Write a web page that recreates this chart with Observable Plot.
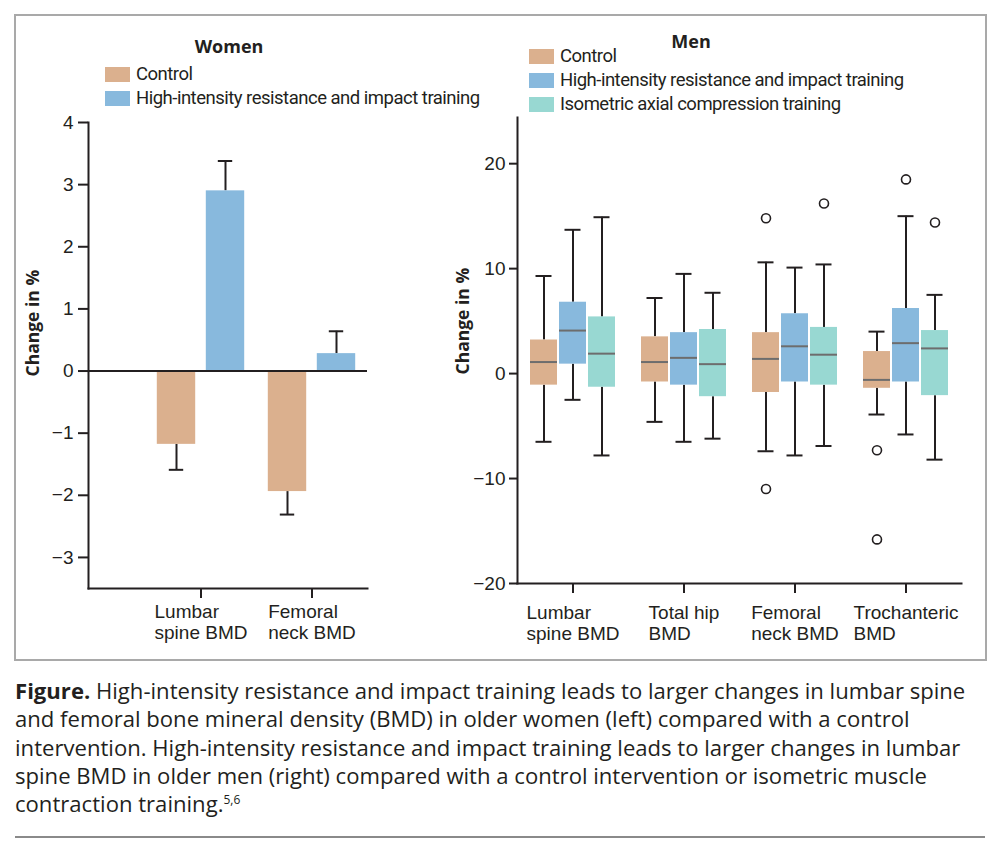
<!DOCTYPE html>
<html>
<head>
<meta charset="utf-8">
<script src="https://cdn.jsdelivr.net/npm/d3@7"></script>
<script src="https://cdn.jsdelivr.net/npm/@observablehq/plot@0.6"></script>
<style>
  body { margin: 0; background: #fff; }
  #fig { position: relative; width: 1000px; height: 852px; background: #fff; font-family: "Open Sans", sans-serif; color: #231f20; overflow: hidden; }
  .panel-frame { position: absolute; left: 14px; top: 14px; width: 969px; height: 643px; border: 2px solid #a9a9a9; }
  .chart { position: absolute; top: 0; }
  .chart svg { overflow: visible; }
  .title { position: absolute; font-weight: 700; font-size: 18px; transform: translate(-50%, -50%); white-space: nowrap; }
  .legend { position: absolute; font-family: Roboto, sans-serif; font-size: 18.5px; letter-spacing: -0.5px; }
  .legend .item { display: flex; align-items: center; height: 24px; white-space: nowrap; }
  .legend .swatch { width: 25px; height: 15px; margin-right: 6px; flex: none; }
  .caption { position: absolute; left: 15px; top: 676px; font-size: 22.1px; line-height: 28.3px; white-space: nowrap; }
  .caption sup { font-size: 12px; line-height: 0; }
  .rule { position: absolute; left: 15px; top: 836px; width: 970px; height: 2px; background: #8a8a8a; }
</style>
</head>
<body>
<div id="fig">
  <div class="panel-frame"></div>
  <div id="women" class="chart" style="left:0px"></div>
  <div id="men" class="chart" style="left:440px"></div>
  <div class="title" style="left:229px; top:46px">Women</div>
  <div class="title" style="left:691px; top:41px">Men</div>
  <div id="legend-women" class="legend" style="left:105px; top:62px"></div>
  <div id="legend-men" class="legend" style="left:529px; top:44px"></div>
  <div class="caption"><b>Figure.</b> High-intensity resistance and impact training leads to larger changes in lumbar spine<br>and femoral bone mineral density (BMD) in older women (left) compared with a control<br>intervention. High-intensity resistance and impact training leads to larger changes in lumbar<br>spine BMD in older men (right) compared with a control intervention or isometric muscle<br>contraction training.<sup>5,6</sup></div>
  <div class="rule"></div>
</div>
<script>
// ---- Women: mean change in % with standard error ----
const womenSites = ["Lumbar\nspine BMD", "Femoral\nneck BMD"];
const womenControlMean = [-1.18, -1.94];
const womenControlSem = [0.41, 0.37];
const womenTrainingMean = [2.9, 0.28];
const womenTrainingSem = [0.48, 0.36];
const womenTicks = [-3, -2, -1, 0, 1, 2, 3, 4];

// ---- Men: box plots, each entry is [lower whisker, Q1, median, Q3, upper whisker] ----
const menSites = ["Lumbar\nspine BMD", "Total hip\nBMD", "Femoral\nneck BMD", "Trochanteric\nBMD"];
const menControl = [[-6.5, -1.1, 1.1, 3.2, 9.3], [-4.6, -0.8, 1.1, 3.5, 7.2], [-7.4, -1.8, 1.4, 3.9, 10.6], [-3.9, -1.4, -0.6, 2.1, 4.0]];
const menTraining = [[-2.5, 0.9, 4.1, 6.8, 13.7], [-6.5, -1.1, 1.5, 3.9, 9.5], [-7.8, -0.8, 2.6, 5.7, 10.1], [-5.8, -0.8, 2.9, 6.2, 15.0]];
const menIsometric = [[-7.8, -1.3, 1.9, 5.4, 14.9], [-6.2, -2.2, 0.9, 4.2, 7.7], [-6.9, -1.1, 1.8, 4.4, 10.4], [-8.2, -2.1, 2.4, 4.1, 7.5]];
const outlierSite = [2, 2, 3, 3, 3, 2, 3];
const outlierGroup = [0, 0, 0, 0, 1, 2, 2];
const outlierValue = [14.8, -11.0, -7.3, -15.8, 18.5, 16.2, 14.4];
const menTicks = [-20, -10, 0, 10, 20];

const groupNames = ["Control", "High-intensity resistance and impact training", "Isometric axial compression training"];
const groupColors = ["#dbb08e", "#88b9dd", "#98d8d2"];

const ink = "#231f20";
const fmt = d3.format("d");
const tickFont = 19;
const tickFamily = "Liberation Sans";

// width of the widest line of a multi-line label, used to left-align each block around its tick
const ctx = document.createElement("canvas").getContext("2d");
ctx.font = `${tickFont}px "${tickFamily}"`;
const blockWidth = (s) => d3.max(s.split("\n"), (line) => ctx.measureText(line).width);

function siteLabels(sites, dy) {
  return sites.map((site) =>
    Plot.text([site], {
      x: (d) => d, frameAnchor: "bottom", lineAnchor: "top", textAnchor: "start",
      dx: -blockWidth(site) / 2, dy, fontSize: tickFont, fontFamily: tickFamily, lineHeight: 1.12, fill: ink
    })
  );
}

// ---------------- Women panel ----------------
{
  const width = 440, height = 660;
  const m = {top: 122, right: 73, bottom: 72, left: 88};
  const paddingOuter = 0.25;
  const bw = (width - m.left - m.right) / (womenSites.length + 2 * paddingOuter);
  const barW = 39, capW = 15, offset = 24.5;

  function series(means, sems, color, dx) {
    const rows = womenSites.map((site, i) => ({site, mean: means[i], end: means[i] + Math.sign(means[i]) * sems[i]}));
    const side = (bw - barW) / 2;
    return [
      Plot.ruleX(rows, {x: "site", y1: "mean", y2: "end", dx, stroke: ink, strokeWidth: 2}),
      Plot.tickY(rows, {x: "site", y: "end", dx, insetLeft: (bw - capW) / 2, insetRight: (bw - capW) / 2, stroke: ink, strokeWidth: 2}),
      Plot.barY(rows, {x: "site", y1: 0, y2: "mean", dx, insetLeft: side, insetRight: side, fill: color})
    ];
  }

  const chart = Plot.plot({
    width, height,
    marginTop: m.top, marginRight: m.right, marginBottom: m.bottom, marginLeft: m.left,
    style: {fontFamily: tickFamily, fontSize: `${tickFont}px`, color: ink, background: "transparent", overflow: "visible"},
    x: {domain: womenSites, paddingInner: 0, paddingOuter, align: 1},
    y: {domain: [-3.5, 4]},
    marks: [
      ...series(womenControlMean, womenControlSem, groupColors[0], -offset),
      ...series(womenTrainingMean, womenTrainingSem, groupColors[1], offset),
      Plot.ruleY([0], {stroke: ink, strokeWidth: 2}),
      Plot.frame({anchor: "left", stroke: ink, strokeWidth: 2}),
      Plot.frame({anchor: "bottom", stroke: ink, strokeWidth: 2}),
      Plot.axisY({ticks: womenTicks, tickSize: 10, tickPadding: 5, tickFormat: fmt, fontSize: tickFont, strokeWidth: 2, label: null}),
      Plot.axisX({tickSize: 10, tickFormat: () => "", strokeWidth: 2, label: null}),
      ...siteLabels(womenSites, 14),
      Plot.text(["Change in %"], {frameAnchor: "left", rotate: -90, dx: -55, dy: 21, fontFamily: "Open Sans", fontWeight: "bold", fontSize: 17.5, fill: ink})
    ]
  });
  document.getElementById("women").append(chart);
}

// ---------------- Men panel ----------------
{
  const width = 545, height = 660;
  const m = {top: 117, right: 24, bottom: 77, left: 77};
  const bw = (width - m.left - m.right) / menSites.length;
  const boxW = 27, capW = 16, step = 29;
  const offsets = [-step, 0, step];

  function series(stats, color, dx) {
    const rows = menSites.map((site, i) => {
      const [lo, q1, med, q3, hi] = stats[i];
      return {site, lo, q1, med, q3, hi};
    });
    const boxSide = (bw - boxW) / 2, capSide = (bw - capW) / 2;
    return [
      Plot.ruleX(rows, {x: "site", y1: "q3", y2: "hi", dx, stroke: ink, strokeWidth: 2}),
      Plot.ruleX(rows, {x: "site", y1: "lo", y2: "q1", dx, stroke: ink, strokeWidth: 2}),
      Plot.tickY(rows, {x: "site", y: "hi", dx, insetLeft: capSide, insetRight: capSide, stroke: ink, strokeWidth: 2}),
      Plot.tickY(rows, {x: "site", y: "lo", dx, insetLeft: capSide, insetRight: capSide, stroke: ink, strokeWidth: 2}),
      Plot.barY(rows, {x: "site", y1: "q1", y2: "q3", dx, insetLeft: boxSide, insetRight: boxSide, fill: color}),
      Plot.tickY(rows, {x: "site", y: "med", dx, insetLeft: boxSide, insetRight: boxSide, stroke: "#6d6d6d", strokeWidth: 2})
    ];
  }

  const outliers = outlierValue.map((value, i) => ({site: menSites[outlierSite[i]], group: outlierGroup[i], value}));

  const chart = Plot.plot({
    width, height,
    marginTop: m.top, marginRight: m.right, marginBottom: m.bottom, marginLeft: m.left,
    style: {fontFamily: tickFamily, fontSize: `${tickFont}px`, color: ink, background: "transparent", overflow: "visible"},
    x: {domain: menSites, padding: 0},
    y: {domain: [-20, 24.4]},
    marks: [
      ...series(menControl, groupColors[0], offsets[0]),
      ...series(menTraining, groupColors[1], offsets[1]),
      ...series(menIsometric, groupColors[2], offsets[2]),
      ...offsets.map((dx, g) =>
        Plot.dot(outliers.filter((d) => d.group === g), {x: "site", y: "value", dx, r: 4.5, stroke: ink, strokeWidth: 1.6, fill: "#ffffff"})
      ),
      Plot.frame({anchor: "left", stroke: ink, strokeWidth: 2}),
      Plot.frame({anchor: "bottom", stroke: ink, strokeWidth: 2}),
      Plot.axisY({ticks: menTicks, tickSize: 8, tickPadding: 4, tickFormat: fmt, fontSize: tickFont, strokeWidth: 2, label: null}),
      Plot.axisX({tickSize: 10, tickFormat: () => "", strokeWidth: 2, label: null}),
      ...siteLabels(menSites, 20),
      Plot.text(["Change in %"], {frameAnchor: "left", rotate: -90, dx: -54, dy: 24, fontFamily: "Open Sans", fontWeight: "bold", fontSize: 17.5, fill: ink})
    ]
  });
  document.getElementById("men").append(chart);
}

// ---------------- Legends ----------------
function legend(id, n) {
  const el = document.getElementById(id);
  groupNames.slice(0, n).forEach((name, i) => {
    const item = document.createElement("div");
    item.className = "item";
    const sw = document.createElement("span");
    sw.className = "swatch";
    sw.style.background = groupColors[i];
    const label = document.createElement("span");
    label.textContent = name;
    item.append(sw, label);
    el.append(item);
  });
}
legend("legend-women", 2);
legend("legend-men", 3);
</script>
</body>
</html>
